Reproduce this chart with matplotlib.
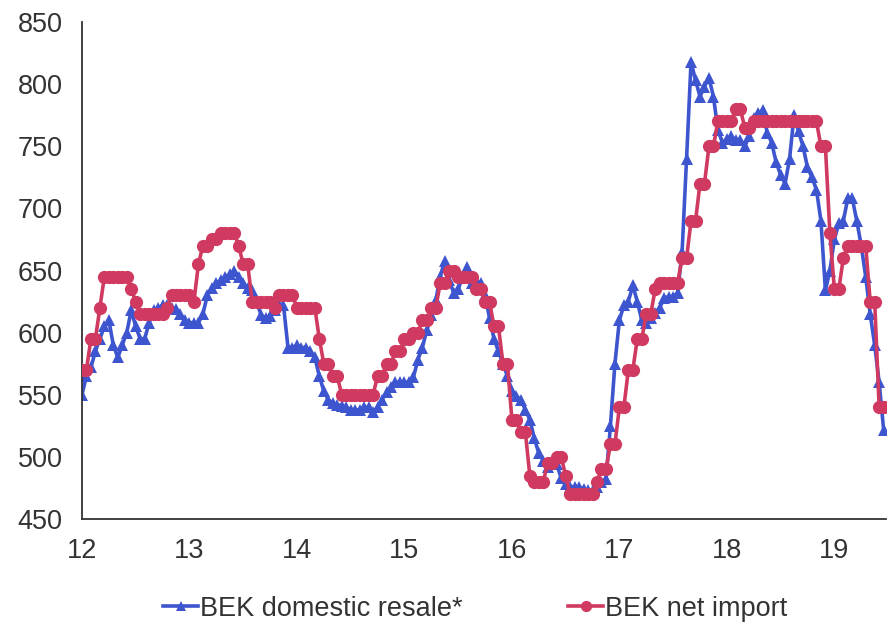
import numpy as np
import matplotlib
matplotlib.use("Agg")
import matplotlib.pyplot as plt

plt.rcParams["font.family"] = ["Liberation Sans", "DejaVu Sans"]

# Semi-monthly observations starting at the beginning of 2012 (axis in years, '12 = 2012)
start_year = 12
periods_per_year = 24

domestic_resale = [
    550, 565, 572, 585, 595, 605, 610, 590, 580, 590,
    600, 618, 605, 595, 595, 608, 618, 620, 622, 622,
    620, 619, 615, 610, 608, 608, 608, 615, 630, 636,
    640, 642, 645, 647, 650, 645, 640, 636, 634, 625,
    614, 612, 613, 618, 622, 622, 588, 588, 590, 588,
    588, 585, 580, 565, 553, 546, 543, 542, 541, 540,
    538, 538, 538, 540, 540, 536, 540, 546, 552, 556,
    560, 560, 560, 560, 564, 578, 588, 602, 614, 626,
    645, 658, 642, 632, 635, 645, 653, 640, 642, 640,
    630, 612, 595, 585, 575, 565, 553, 549, 546, 538,
    530, 515, 503, 497, 492, 495, 494, 483, 478, 476,
    476, 476, 474, 473, 473, 476, 480, 482, 525, 575,
    610, 622, 625, 638, 625, 610, 608, 612, 616, 620,
    628, 629, 629, 632, 665, 740, 818, 803, 790, 798,
    805, 790, 763, 753, 756, 758, 755, 755, 750, 758,
    773, 777, 779, 761, 753, 737, 727, 720, 740, 775,
    762, 750, 733, 725, 715, 690, 634, 650, 675, 688,
    690, 708, 708, 690, 670, 645, 615, 590, 560, 522,
]

net_import = [
    570, 570, 595, 595, 620, 645, 645, 645, 645, 645,
    645, 635, 625, 615, 615, 615, 615, 615, 615, 620,
    630, 630, 630, 630, 630, 625, 655, 670, 670, 675,
    675, 680, 680, 680, 680, 670, 655, 655, 625, 625,
    625, 625, 625, 620, 630, 630, 630, 630, 620, 620,
    620, 620, 620, 595, 575, 575, 565, 565, 550, 550,
    550, 550, 550, 550, 550, 550, 565, 565, 575, 575,
    585, 585, 595, 595, 600, 600, 610, 610, 620, 620,
    640, 640, 650, 650, 645, 645, 645, 645, 635, 635,
    625, 625, 605, 605, 575, 575, 530, 530, 520, 520,
    485, 480, 480, 480, 495, 495, 500, 500, 485, 470,
    470, 470, 470, 470, 470, 480, 490, 490, 510, 510,
    540, 540, 570, 570, 595, 595, 615, 615, 635, 640,
    640, 640, 640, 640, 660, 660, 690, 690, 720, 720,
    750, 750, 770, 770, 770, 770, 780, 780, 765, 765,
    770, 770, 770, 770, 770, 770, 770, 770, 770, 770,
    770, 770, 770, 770, 770, 750, 750, 680, 635, 635,
    660, 670, 670, 670, 670, 670, 625, 625, 540, 540,
]

year_ticks = [12, 13, 14, 15, 16, 17, 18, 19]
value_ticks = [450, 500, 550, 600, 650, 700, 750, 800, 850]

series_names = ["BEK domestic resale*", "BEK net import"]

t = start_year + np.arange(len(domestic_resale)) / periods_per_year

blue = "#3D55CF"
red = "#D03A60"
text_color = "#333333"
font_size = 19.5

fig = plt.figure(figsize=(8.88, 6.31), dpi=100)
ax = fig.add_axes([0.0923, 0.1775, 0.9054, 0.7876])

ax.plot(t, domestic_resale, color=blue, lw=2.6, marker="^", ms=8,
        markeredgewidth=0, label=series_names[0], zorder=2)
ax.plot(t, net_import, color=red, lw=2.6, marker="o", ms=9.5,
        markeredgewidth=0, label=series_names[1], zorder=3)

ax.set_xlim(12, 19.48)
ax.set_ylim(450, 850)
ax.set_xticks(year_ticks)
ax.set_xticklabels([str(y) for y in year_ticks])
ax.set_yticks(value_ticks)

for side in ("top", "right"):
    ax.spines[side].set_visible(False)
for side in ("left", "bottom"):
    ax.spines[side].set_color("#333333")
    ax.spines[side].set_linewidth(1.3)

ax.tick_params(axis="both", length=0, labelsize=font_size, colors=text_color)
ax.tick_params(axis="x", pad=14)
ax.tick_params(axis="y", pad=14)

fig.legend(loc="center", bbox_to_anchor=(0.535, 0.035), ncol=2, frameon=False,
           fontsize=font_size, handlelength=1.3, handletextpad=0.05, columnspacing=3.9,
           labelcolor=text_color, markerscale=0.85)

fig.savefig("out.png", dpi=100)
